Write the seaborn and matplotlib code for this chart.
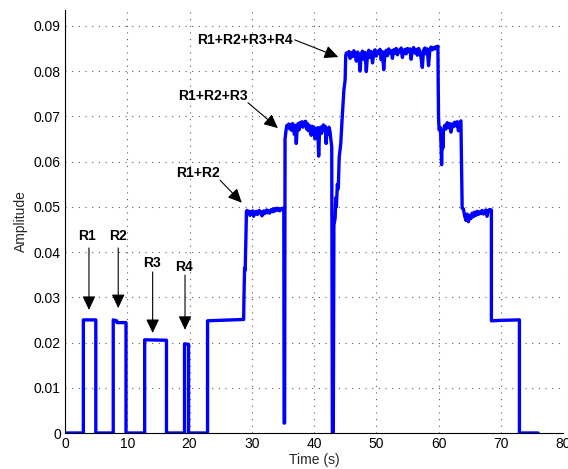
import numpy as np
import pandas as pd
import seaborn as sns
import matplotlib
matplotlib.use("Agg")
import matplotlib.pyplot as plt

# step part of the signal (single sensors R1..R4, then rising to R1+R2)
steps_t = [0, 2.95, 2.95, 4.95, 4.95, 7.75, 7.75, 8.3, 8.35, 9.8, 9.8, 12.8, 12.8,
           16.3, 16.3, 19.2, 19.2, 19.85, 19.85, 22.9, 22.9, 28.7, 28.75, 28.85,
           28.95, 29.05, 29.15]
steps_y = [0, 0, 0.0250, 0.0250, 0, 0, 0.0250, 0.0248, 0.0244, 0.0244, 0, 0, 0.0206,
           0.0205, 0, 0, 0.0197, 0.0196, 0, 0, 0.0248, 0.0251, 0.0300, 0.0365,
           0.0360, 0.0420, 0.0490]

# plateau R1+R2 (29.25 .. 35.1 s)
r12_y = [0.0492, 0.0486, 0.0490, 0.0481, 0.0489, 0.0484, 0.0491, 0.0479, 0.0488, 0.0485,
         0.0490, 0.0483, 0.0487, 0.0492, 0.0486, 0.0489, 0.0480, 0.0488, 0.0491, 0.0485,
         0.0489, 0.0493, 0.0487, 0.0491, 0.0486, 0.0490, 0.0494, 0.0489, 0.0495, 0.0490,
         0.0496, 0.0492, 0.0497, 0.0493, 0.0495, 0.0491, 0.0496, 0.0494, 0.0497, 0.0495]

# glitch to zero between R1+R2 and R1+R2+R3
glitch1_t = [35.15, 35.2, 35.28]
glitch1_y = [0.0494, 0.0022, 0.0022]

# plateau R1+R2+R3 (35.35 .. 42.85 s)
r123_y = [0.0650, 0.0668, 0.0680, 0.0676, 0.0683, 0.0672, 0.0681, 0.0669, 0.0684, 0.0677,
          0.0660, 0.0680, 0.0640, 0.0675, 0.0684, 0.0670, 0.0686, 0.0679, 0.0688, 0.0676,
          0.0687, 0.0681, 0.0689, 0.0672, 0.0684, 0.0668, 0.0680, 0.0674, 0.0658, 0.0678,
          0.0670, 0.0676, 0.0650, 0.0672, 0.0664, 0.0675, 0.0612, 0.0668, 0.0676, 0.0662,
          0.0674, 0.0681, 0.0668, 0.0678, 0.0640, 0.0672, 0.0660, 0.0676, 0.0668, 0.0650,
          0.0632]

# drop to zero and climb to R1+R2+R3+R4
climb_t = [42.95, 43.1, 43.2, 43.4, 43.5, 43.6, 43.75, 43.9, 44.05, 44.3, 44.5, 44.8, 45.0, 45.1]
climb_y = [0.0, 0.0, 0.0460, 0.0475, 0.0520, 0.0500, 0.0550, 0.0540, 0.0610, 0.0640,
           0.0690, 0.0758, 0.0780, 0.0835]

# plateau R1+R2+R3+R4 (45.2 .. 59.8 s)
r1234_y = [0.0840, 0.0836, 0.0843, 0.0828, 0.0841, 0.0832, 0.0845, 0.0838, 0.0822, 0.0842,
           0.0835, 0.0800, 0.0839, 0.0844, 0.0826, 0.0841, 0.0799, 0.0837, 0.0846, 0.0830,
           0.0843, 0.0818, 0.0840, 0.0847, 0.0833, 0.0844, 0.0839, 0.0848, 0.0825, 0.0843,
           0.0803, 0.0838, 0.0846, 0.0834, 0.0849, 0.0840, 0.0845, 0.0828, 0.0847, 0.0839,
           0.0850, 0.0836, 0.0846, 0.0842, 0.0851, 0.0830, 0.0845, 0.0848, 0.0838, 0.0850,
           0.0843, 0.0849, 0.0826, 0.0846, 0.0852, 0.0840, 0.0848, 0.0835, 0.0850, 0.0844,
           0.0829, 0.0808, 0.0846, 0.0851, 0.0838, 0.0849, 0.0812, 0.0845, 0.0853, 0.0847,
           0.0852, 0.0849, 0.0854, 0.0851]

# step down to R1+R2+R3 again
drop1_t = [59.9, 60.0, 60.1, 60.3, 60.4, 60.5, 60.6, 60.7, 60.8]
drop1_y = [0.0855, 0.0700, 0.0670, 0.0675, 0.0640, 0.0593, 0.0660, 0.0630, 0.0668]

# second R1+R2+R3 plateau (61.0 .. 63.6 s)
r123b_y = [0.0680, 0.0672, 0.0686, 0.0675, 0.0684, 0.0665, 0.0683, 0.0677, 0.0687, 0.0679,
           0.0688, 0.0668, 0.0686, 0.0690]

# second R1+R2 plateau (63.8 .. 68.4 s)
r12b_y = [0.0497, 0.0495, 0.0480, 0.0470, 0.0484, 0.0467, 0.0481, 0.0474, 0.0486, 0.0478,
          0.0488, 0.0481, 0.0490, 0.0483, 0.0489, 0.0485, 0.0492, 0.0484, 0.0490, 0.0493,
          0.0479, 0.0491, 0.0494, 0.0492]

# tail
tail_t = [68.5, 68.5, 70.0, 73.0, 73.0, 76.0]
tail_y = [0.0493, 0.0248, 0.0249, 0.0250, 0.0, 0.0]

time_s = np.concatenate([
    steps_t,
    np.linspace(29.25, 35.1, len(r12_y)),
    glitch1_t,
    np.linspace(35.35, 42.85, len(r123_y)),
    climb_t,
    np.linspace(45.2, 59.8, len(r1234_y)),
    drop1_t,
    np.linspace(61.0, 63.6, len(r123b_y)),
    np.linspace(63.8, 68.4, len(r12b_y)),
    tail_t,
])
amplitude = np.concatenate([steps_y, r12_y, glitch1_y, r123_y, climb_y, r1234_y,
                            drop1_y, r123b_y, r12b_y, tail_y])
df = pd.DataFrame({"Time (s)": time_s, "Amplitude": amplitude})

# annotations: label, text position, arrow start, arrow tip
labels = ["R1", "R2", "R3", "R4", "R1+R2", "R1+R2+R3", "R1+R2+R3+R4"]
label_xy = [(3.5, 0.0436), (8.5, 0.0436), (14.0, 0.0376), (19.1, 0.0367),
            (21.4, 0.0575), (23.8, 0.0745), (28.9, 0.0869)]
arrow_from = [(3.85, 0.0409), (8.55, 0.0409), (14.08, 0.0356), (19.28, 0.0349),
              (24.9, 0.0559), (29.4, 0.0730), (36.9, 0.0869)]
arrow_to = [(3.85, 0.0272), (8.55, 0.0276), (14.08, 0.0221), (19.28, 0.0228),
            (28.4, 0.0509), (34.2, 0.0674), (43.9, 0.0831)]

x_ticks = [0, 10, 20, 30, 40, 50, 60, 70, 80]
y_ticks = [0, 0.01, 0.02, 0.03, 0.04, 0.05, 0.06, 0.07, 0.08, 0.09]
y_tick_labels = ["0", "0.01", "0.02", "0.03", "0.04", "0.05", "0.06", "0.07", "0.08", "0.09"]

sns.set_style("white")
plt.rcParams["font.family"] = ["Liberation Sans", "DejaVu Sans"]

fig = plt.figure(figsize=(5.68, 4.69), dpi=100)
ax = fig.add_axes([65 / 568, 36 / 469, 498 / 568, 423 / 469])

sns.lineplot(data=df, x="Time (s)", y="Amplitude", sort=False, estimator=None,
             color="#0000ff", linewidth=2.4, ax=ax)

for lab, txy, a0, a1 in zip(labels, label_xy, arrow_from, arrow_to):
    ax.text(txy[0], txy[1], lab, ha="center", va="center", fontsize=10,
            fontweight="bold", color="black")
    ax.annotate("", xy=a1, xytext=a0,
                arrowprops=dict(arrowstyle="-|>,head_length=0.7,head_width=0.33",
                                mutation_scale=12, color="black", lw=0.8,
                                shrinkA=0, shrinkB=0))

ax.set_xlim(0, 80)
ax.set_ylim(0, 0.0935)
ax.set_xticks(x_ticks)
ax.set_yticks(y_ticks)
ax.set_yticklabels(y_tick_labels)
ax.grid(True, linestyle=(0, (1, 5)), color="0.35", linewidth=0.8)
ax.tick_params(direction="in", length=4, width=0.8, labelsize=10, pad=3,
               colors="black")
for side in ["top", "right"]:
    ax.spines[side].set_visible(False)
for side in ["left", "bottom"]:
    ax.spines[side].set_color("black")
    ax.spines[side].set_linewidth(0.8)
ax.set_xlabel("Time (s)", fontsize=10, labelpad=1)
ax.set_ylabel("Amplitude", fontsize=10, labelpad=4)

fig.savefig("out.png", dpi=100)
